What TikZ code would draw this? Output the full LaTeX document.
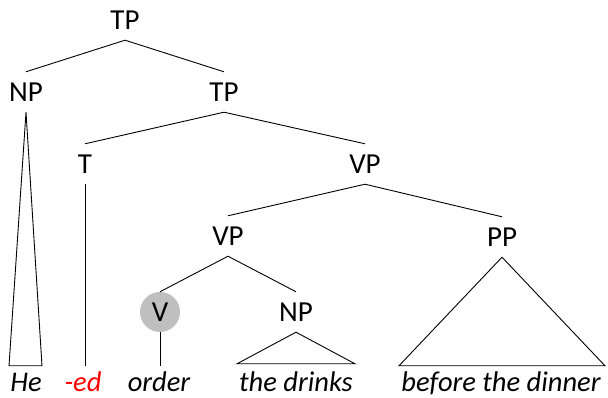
\documentclass[tikz,border=0pt]{standalone}
\usepackage{fontspec}
\setmainfont{Carlito}
\usetikzlibrary{calc}
\begin{document}
\begin{tikzpicture}[x=1pt,y=1pt,
  cat/.style={font=\fontsize{29}{32}\selectfont, text height=19pt, text depth=0pt, inner ysep=10.5pt, inner xsep=2pt},
  word/.style={font=\fontsize{28.5}{32}\selectfont\itshape, text height=18pt, text depth=4pt, inner ysep=8pt, inner xsep=2pt, anchor=base},
  edge/.style={line width=0.9pt, black},
  headcirc/.style={circle, fill=gray!50, minimum size=40pt, inner sep=0pt, font=\fontsize{29}{32}\selectfont}]
\useasboundingbox (0,0) rectangle (608,398);
% category nodes
\node[cat] (TPa) at (125,378) {TP};
\node[cat] (NPa) at (26,306) {NP};
\node[cat] (TPb) at (224,306) {TP};
\node[cat] (T) at (85,234) {T};
\node[cat] (VPa) at (365,234) {VP};
\node[cat] (VPb) at (228,162) {VP};
\node[cat] (PP) at (502,161) {PP};
\node[headcirc] (V) at (160,86) {V};
\node[cat] (NPb) at (296,86) {NP};
% words
\node[word] (He) at (26,6) {He};
\node[word, text=red] (ed) at (83,6) {-ed};
\node[word] (order) at (159,6) {order};
\node[word] (drinks) at (296,6) {the drinks};
\node[word] (dinner) at (501,6) {before the dinner};
% branches
\draw[edge] (TPa.south) -- (NPa.north);
\draw[edge] (TPa.south) -- (TPb.north);
\draw[edge] (TPb.south) -- (T.north);
\draw[edge] (TPb.south) -- (VPa.north);
\draw[edge] (VPa.south) -- (VPb.north);
\draw[edge] (VPa.south) -- (PP.north);
\draw[edge] (VPb.south) -- (V.north);
\draw[edge] (VPb.south) -- (NPb.north);
\draw[edge] (T.south) -- (T.south |- ed.north);
\draw[edge] (V.south) -- (V.south |- order.north);
% triangles
\draw[edge, line join=miter] (NPa.south) -- ($(He.north)+(-17,0)$) -- ($(He.north)+(16,0)$) -- cycle;
\draw[edge] (NPb.south) -- ($(drinks.north)+(-59,2)$) -- ($(drinks.north)+(59,2)$) -- cycle;
\draw[edge] (PP.south) -- ($(dinner.north)+(-102,0)$) -- ($(dinner.north)+(104,0)$) -- cycle;
\end{tikzpicture}
\end{document}
